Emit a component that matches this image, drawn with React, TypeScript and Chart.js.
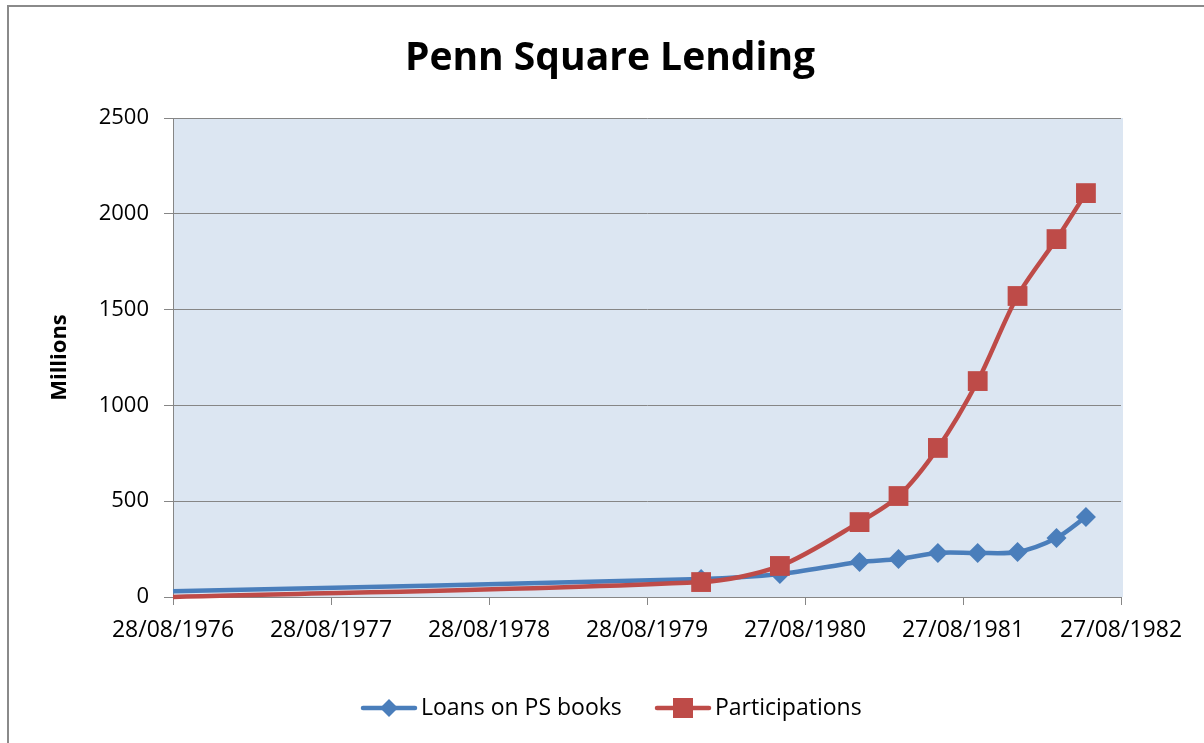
import React, { useEffect, useRef } from "react";
import { Chart, registerables } from "chart.js";

Chart.register(...registerables);

const chartTitle = "Penn Square Lending";
const yAxisTitle = "Millions";
const seriesNames = ["Loans on PS books", "Participations"];
const tickDates = ["1976-08-28", "1977-08-28", "1978-08-28", "1979-08-28", "1980-08-27", "1981-08-27", "1982-08-27"];
const pointDates = ["1976-08-28", "1979-12-31", "1980-06-30", "1980-12-31", "1981-03-31", "1981-06-30", "1981-09-30", "1981-12-31", "1982-03-31", "1982-06-07"];
const loans = [30, 94, 120, 183, 198, 230, 230, 235, 308, 418];
const participations = [0, 78, 162, 391, 527, 778, 1127, 1571, 1868, 2108];
const yMin = 0;
const yMax = 2500;
const yStep = 500;

const DAY = 86400000;
const toDays = (s: string) => Date.parse(s + "T00:00:00Z") / DAY;
const pad2 = (n: number) => (n < 10 ? "0" + n : "" + n);
const fmtDate = (d: number) => {
  const dt = new Date(Math.round(d) * DAY);
  return pad2(dt.getUTCDate()) + "/" + pad2(dt.getUTCMonth() + 1) + "/" + dt.getUTCFullYear();
};

const BLUE = "#4A7EBB";
const RED = "#BE4B48";
const GRID = "#868686";
const FONT = "'Open Sans', 'DejaVu Sans', sans-serif";

export default function App() {
  const ref = useRef<HTMLCanvasElement | null>(null);

  useEffect(() => {
    const canvas = ref.current;
    if (!canvas) return;

    const decor = {
      id: "decor",
      beforeDraw(chart: any) {
        const { ctx, chartArea, width, height } = chart;
        ctx.save();
        ctx.fillStyle = "#ffffff";
        ctx.fillRect(0, 0, width, height);
        ctx.fillStyle = "#DCE6F2";
        ctx.fillRect(chartArea.left, chartArea.top, chartArea.right - chartArea.left + 2, chartArea.bottom - chartArea.top);
        ctx.fillStyle = "#8A8A8A";
        ctx.fillRect(7, 5, width - 7, 2);
        ctx.fillRect(7, 5, 2, height - 5);
        ctx.restore();
      },
      afterDraw(chart: any) {
        const { ctx, chartArea } = chart;
        ctx.save();
        ctx.fillStyle = "#000";
        ctx.textBaseline = "middle";
        ctx.textAlign = "center";
        ctx.font = "bold 39px " + FONT;
        ctx.fillText(chartTitle, 610, 59);

        ctx.save();
        ctx.translate(60, (chartArea.top + chartArea.bottom) / 2);
        ctx.rotate(-Math.PI / 2);
        ctx.font = "bold 22px " + FONT;
        ctx.fillText(yAxisTitle, 0, 0);
        ctx.restore();

        // legend
        const items = [
          { name: seriesNames[0], color: BLUE, style: "rectRot", x: 363 },
          { name: seriesNames[1], color: RED, style: "rect", x: 657 },
        ];
        const ly = 708;
        ctx.font = "23px " + FONT;
        ctx.textAlign = "left";
        for (const it of items) {
          ctx.strokeStyle = it.color;
          ctx.lineWidth = 4.5;
          ctx.lineCap = "round";
          ctx.beginPath();
          ctx.moveTo(it.x, ly);
          ctx.lineTo(it.x + 52, ly);
          ctx.stroke();
          ctx.fillStyle = it.color;
          const cx = it.x + 26;
          if (it.style === "rect") {
            ctx.fillRect(cx - 10, ly - 10, 20, 20);
          } else {
            ctx.beginPath();
            ctx.moveTo(cx, ly - 9);
            ctx.lineTo(cx + 9, ly);
            ctx.lineTo(cx, ly + 9);
            ctx.lineTo(cx - 9, ly);
            ctx.closePath();
            ctx.fill();
          }
          ctx.fillStyle = "#000";
          ctx.fillText(it.name, it.x + 58, ly);
        }
        ctx.restore();
      },
    };

    const mk = (vals: number[]) => pointDates.map((d, i) => ({ x: toDays(d), y: vals[i] }));

    const chart = new Chart(canvas, {
      type: "line",
      data: {
        datasets: [
          {
            label: seriesNames[0],
            data: mk(loans),
            borderColor: BLUE,
            backgroundColor: BLUE,
            borderWidth: 4.5,
            pointStyle: "rectRot",
            pointRadius: (c: any) => (c.dataIndex === 0 ? 0 : 10),
            pointBorderWidth: 0,
            tension: 0.3,
            clip: false as any,
            order: 1,
          },
          {
            label: seriesNames[1],
            data: mk(participations),
            borderColor: RED,
            backgroundColor: RED,
            borderWidth: 4.5,
            pointStyle: "rect",
            pointRadius: (c: any) => (c.dataIndex === 0 ? 0 : 14),
            pointBorderWidth: 0,
            tension: 0.3,
            clip: false as any,
            order: 0,
          },
        ],
      },
      options: {
        responsive: false,
        animation: false,
        events: [],
        layout: { padding: { left: 0, right: 83, top: 118, bottom: 96 } },
        plugins: { legend: { display: false }, title: { display: false }, tooltip: { enabled: false } },
        scales: {
          x: {
            type: "linear",
            min: toDays(tickDates[0]),
            max: toDays(tickDates[tickDates.length - 1]),
            afterBuildTicks: (s: any) => {
              s.ticks = tickDates.map((d) => ({ value: toDays(d) }));
            },
            afterFit: (s: any) => {
              s.height = 50;
            },
            ticks: {
              callback: (v: any) => fmtDate(Number(v)),
              font: { family: FONT, size: 23 },
              color: "#000",
              maxRotation: 0,
              autoSkip: false,
              padding: 12,
            },
            grid: { drawOnChartArea: false, drawTicks: true, tickLength: 8, color: GRID },
            border: { color: GRID, width: 1 },
          },
          y: {
            min: yMin,
            max: yMax,
            afterFit: (s: any) => {
              s.width = 173;
            },
            ticks: {
              stepSize: yStep,
              callback: (v: any) => String(v),
              font: { family: FONT, size: 22 },
              color: "#000",
              padding: 15,
            },
            grid: { color: GRID, tickLength: 9, lineWidth: 1 },
            border: { color: GRID, width: 1 },
          },
        },
      },
      plugins: [decor],
    } as any);

    return () => chart.destroy();
  }, []);

  return (
    <div style={{ position: "fixed", left: 0, top: 0, width: 1204, height: 743, background: "#fff" }}>
      <canvas ref={ref} width={1204} height={743} style={{ display: "block", width: 1204, height: 743 }} />
    </div>
  );
}
